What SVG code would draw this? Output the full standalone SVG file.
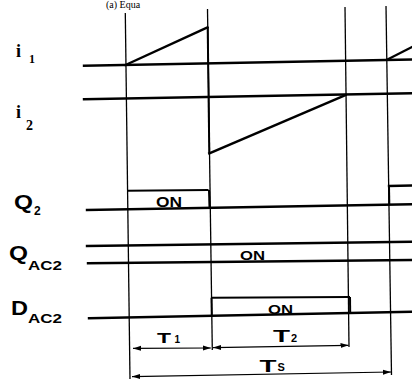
<svg xmlns="http://www.w3.org/2000/svg" width="412" height="379" viewBox="0 0 412 379">
<style>
.bg{fill:#fff}
.w{stroke:#000;stroke-width:2.4;fill:none;stroke-linecap:square}
.v{stroke:#000;stroke-width:1.3;fill:none}
.e{stroke:#000;stroke-width:2;fill:none}
.d{stroke:#000;stroke-width:1.2;fill:none}
.ser{font-family:"Liberation Serif","DejaVu Serif",serif;font-weight:bold;fill:#000}
.cap{font-family:"Liberation Serif","DejaVu Serif",serif;font-weight:normal;fill:#000}
.sans{font-family:"Liberation Sans",Arial,sans-serif;font-weight:bold;fill:#000}
</style>
<defs>
<marker id="ah" viewBox="0 0 8 6" refX="8" refY="3" markerWidth="8" markerHeight="6" markerUnits="userSpaceOnUse" orient="auto-start-reverse">
<path d="M0,0.5 L8,3 L0,5.5 Z" fill="#000"/>
</marker>
</defs>
<rect class="bg" width="412" height="379"/>
<text class="cap" x="106" y="8" font-size="10">(a) Equa</text>

<g id="labels">
<g id="label-i1"><text class="ser" x="16" y="57" font-size="18">i</text><text class="ser" x="29" y="63" font-size="12">1</text></g>
<g id="label-i2"><text class="ser" x="16" y="118" font-size="18">i</text><text class="ser" x="26" y="130" font-size="14">2</text></g>
<g id="label-Q2"><text class="sans" x="14" y="209" font-size="20" textLength="19" lengthAdjust="spacingAndGlyphs">Q</text><text class="sans" x="34" y="215" font-size="12">2</text></g>
<g id="label-QAC2"><text class="sans" x="9" y="260" font-size="20" textLength="19" lengthAdjust="spacingAndGlyphs">Q</text><text class="sans" x="28" y="269.5" font-size="12" textLength="34" lengthAdjust="spacingAndGlyphs">AC2</text></g>
<g id="label-DAC2"><text class="sans" x="11" y="315" font-size="20" textLength="17" lengthAdjust="spacingAndGlyphs">D</text><text class="sans" x="28" y="323" font-size="12" textLength="34" lengthAdjust="spacingAndGlyphs">AC2</text></g>
</g>

<g id="grid">
<line class="v" x1="125.3" y1="13" x2="130" y2="379"/>
<line class="v" x1="207.5" y1="9" x2="212.3" y2="350"/>
<line class="e" x1="207.7" y1="27" x2="209.3" y2="153"/>
<line class="v" x1="345" y1="7" x2="349" y2="347"/>
<line class="v" x1="386" y1="6" x2="391.5" y2="375"/>
</g>

<g id="trace-i1">
<line class="w" x1="84" y1="65.7" x2="412" y2="59.5"/>
<line class="w" x1="125.5" y1="65" x2="207.5" y2="27.3"/>
<line class="w" x1="387.5" y1="59.5" x2="414" y2="46"/>
</g>
<g id="trace-i2">
<line class="w" x1="84" y1="99.3" x2="412" y2="93.3"/>
<line class="w" x1="209.3" y1="153.3" x2="345.5" y2="95"/>
</g>
<g id="trace-Q2">
<line class="w" x1="87" y1="210" x2="412" y2="204.3"/>
<line class="e" x1="127" y1="190.8" x2="208.5" y2="190"/>
<line class="e" x1="209" y1="190" x2="209.5" y2="208"/>
<line class="e" x1="389" y1="186" x2="389.3" y2="204.5"/>
<line class="w" x1="389" y1="186" x2="412" y2="185.5"/>
<text class="sans" x="156" y="206.5" font-size="14" textLength="26" lengthAdjust="spacingAndGlyphs">ON</text>
</g>
<g id="trace-QAC2">
<line class="w" x1="87" y1="246" x2="412" y2="241.7"/>
<line class="w" x1="88" y1="263.3" x2="412" y2="260"/>
<text class="sans" x="240" y="260" font-size="13" textLength="25" lengthAdjust="spacingAndGlyphs">ON</text>
</g>
<g id="trace-DAC2">
<line class="w" x1="89" y1="318.3" x2="412" y2="311.7"/>
<line class="e" x1="212" y1="297.7" x2="350" y2="297"/>
<line class="e" x1="350" y1="297" x2="350.2" y2="314"/>
<line class="e" x1="211.5" y1="297.7" x2="211.8" y2="316"/>
<text class="sans" x="268" y="313.5" font-size="13" textLength="25" lengthAdjust="spacingAndGlyphs">ON</text>
</g>

<g id="connectors">
<line class="d" x1="133" y1="348.4" x2="210.8" y2="348" marker-start="url(#ah)" marker-end="url(#ah)"/>
<line class="d" x1="213" y1="347.6" x2="348.5" y2="345.3" marker-start="url(#ah)" marker-end="url(#ah)"/>
<line class="d" x1="132" y1="376.6" x2="391" y2="372" marker-start="url(#ah)" marker-end="url(#ah)"/>
</g>

<g id="dim-labels">
<g id="label-T1"><text class="sans" x="157" y="342.7" font-size="15" textLength="14" lengthAdjust="spacingAndGlyphs">T</text><text class="sans" x="174.5" y="342.5" font-size="10">1</text></g>
<g id="label-T2"><text class="sans" x="273" y="341.7" font-size="16" textLength="17" lengthAdjust="spacingAndGlyphs">T</text><text class="sans" x="291" y="341.5" font-size="11">2</text></g>
<g id="label-Ts"><text class="sans" x="259.5" y="371.5" font-size="17" textLength="17" lengthAdjust="spacingAndGlyphs">T</text><text class="sans" x="277.5" y="370.5" font-size="11">S</text></g>
</g>
</svg>
